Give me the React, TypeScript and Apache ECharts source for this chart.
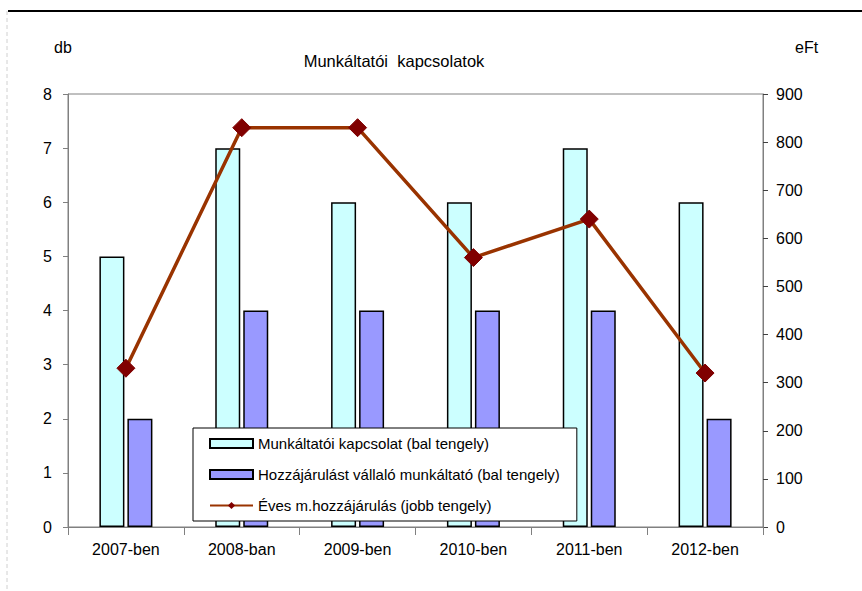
import React, { useEffect, useRef } from "react";
import * as echarts from "echarts";

const categories = ["2007-ben", "2008-ban", "2009-ben", "2010-ben", "2011-ben", "2012-ben"];
const munkaltatoiKapcsolat = [5, 7, 6, 6, 7, 6];
const hozzajarulastVallalo = [2, 4, 4, 4, 4, 2];
const evesHozzajarulas = [330, 830, 830, 560, 640, 320];
const leftTicks = { min: 0, max: 8, interval: 1 };
const rightTicks = { min: 0, max: 900, interval: 100 };

const FONT = "Liberation Sans, Arial, sans-serif";

export default function App() {
  const ref = useRef<HTMLDivElement>(null);
  useEffect(() => {
    if (!ref.current) return;
    const chart = echarts.init(ref.current, null, { renderer: "svg" });
    chart.setOption({
      animation: false,
      backgroundColor: "#ffffff",
      textStyle: { fontFamily: FONT },
      title: {
        text: "Munkáltatói  kapcsolatok",
        left: 389,
        top: 47,
        textAlign: "center",
        textStyle: { fontSize: 16.5, fontWeight: "normal", color: "#000", fontFamily: FONT },
      },
      graphic: [
        { type: "line", shape: { x1: 8, y1: 11, x2: 862, y2: 11 }, style: { stroke: "#000", lineWidth: 2 } },
        { type: "line", shape: { x1: 7, y1: 11, x2: 7, y2: 591 }, style: { stroke: "#d0d0d0", lineWidth: 1, lineDash: [4, 3] } },
        { type: "text", left: 54, top: 39, style: { text: "db", fontSize: 16, fill: "#000", fontFamily: FONT } },
        { type: "text", left: 795, top: 39, style: { text: "eFt", fontSize: 16, fill: "#000", fontFamily: FONT } },
      ],
      grid: {
        left: 68,
        right: 862 - 763,
        top: 94,
        bottom: 591 - 527,
        show: true,
        borderColor: "#808080",
        borderWidth: 1,
        backgroundColor: "transparent",
      },
      legend: {
        orient: "vertical",
        left: 193,
        top: 428,
        backgroundColor: "#ffffff",
        borderColor: "#000",
        borderWidth: 1,
        padding: [8, 17, 8, 16],
        itemWidth: 43,
        itemHeight: 9,
        itemGap: 16,
        textStyle: { fontSize: 15, color: "#000", fontFamily: FONT },
        data: [
          { name: "Munkáltatói kapcsolat (bal tengely)", icon: "rect" },
          { name: "Hozzájárulást vállaló munkáltató (bal tengely)", icon: "rect" },
          { name: "Éves m.hozzájárulás (jobb tengely)" },
        ],
      },
      xAxis: {
        type: "category",
        data: categories,
        axisLine: { lineStyle: { color: "#808080", width: 1 } },
        axisTick: { show: true, length: 8, inside: false, lineStyle: { color: "#808080" } },
        axisLabel: { fontSize: 16, color: "#000", margin: 14, fontFamily: FONT },
        splitLine: { show: false },
      },
      yAxis: [
        {
          type: "value",
          ...leftTicks,
          position: "left",
          axisLine: { show: true, lineStyle: { color: "#808080" } },
          axisTick: { show: true, length: 5, lineStyle: { color: "#808080" } },
          axisLabel: { fontSize: 16, color: "#000", margin: 16, fontFamily: FONT },
          splitLine: { show: false },
        },
        {
          type: "value",
          ...rightTicks,
          position: "right",
          axisLine: { show: true, lineStyle: { color: "#808080" } },
          axisTick: { show: true, length: 5, lineStyle: { color: "#404040" } },
          axisLabel: { fontSize: 16, color: "#000", margin: 13, fontFamily: FONT },
          splitLine: { show: false },
        },
      ],
      series: [
        {
          name: "Munkáltatói kapcsolat (bal tengely)",
          type: "bar",
          yAxisIndex: 0,
          data: munkaltatoiKapcsolat,
          barWidth: 25,
          barGap: "12%",
          itemStyle: { color: "#CCFFFF", borderColor: "#000", borderWidth: 1.5 },
        },
        {
          name: "Hozzájárulást vállaló munkáltató (bal tengely)",
          type: "bar",
          yAxisIndex: 0,
          data: hozzajarulastVallalo,
          barWidth: 25,
          itemStyle: { color: "#9999FF", borderColor: "#000", borderWidth: 1.5 },
        },
        {
          name: "Éves m.hozzájárulás (jobb tengely)",
          type: "line",
          yAxisIndex: 1,
          data: evesHozzajarulas,
          z: 5,
          symbol: "diamond",
          symbolSize: 18,
          lineStyle: { color: "#993300", width: 3.5 },
          itemStyle: { color: "#800000", borderColor: "#800000" },
        },
      ],
    });
    return () => chart.dispose();
  }, []);
  return (
    <div
      ref={ref}
      style={{ position: "fixed", left: 0, top: 0, width: 862, height: 591 }}
    />
  );
}
